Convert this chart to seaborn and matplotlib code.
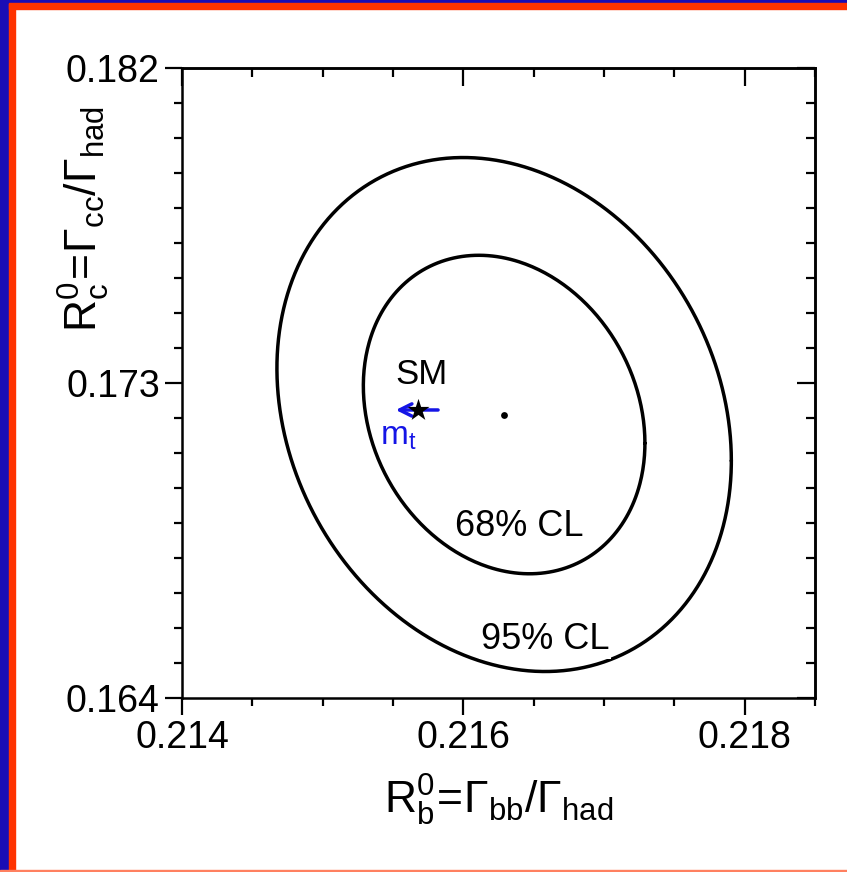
import numpy as np
import matplotlib.pyplot as plt
import matplotlib.patches as mpatches
import seaborn as sns
import pandas as pd

# LEP/SLD fit values
rb_fit, rb_err = 0.21629, 0.00066
rc_fit, rc_err = 0.1721, 0.0030
rho = -0.18
cl_labels = ["68% CL", "95% CL"]
cl_dchi2 = [2.30, 5.99]

# Standard Model point and mt arrow
sm_rb, sm_rc = 0.21568, 0.17223
arrow_tail = (0.21584, 0.17223)
arrow_tip = (0.21550, 0.17223)

x_major = [0.214, 0.216, 0.218]
y_major = [0.164, 0.173, 0.182]
x_minor = np.arange(0.214, 0.2186, 0.0005)
y_minor = np.arange(0.164, 0.1821, 0.001)

sns.set_theme(style="ticks")
plt.rcParams["font.family"] = ["Liberation Sans", "DejaVu Sans"]
plt.rcParams["mathtext.fontset"] = "custom"
plt.rcParams["mathtext.rm"] = "Liberation Sans"
plt.rcParams["mathtext.it"] = "Liberation Sans:italic"
for k in ["text.color", "axes.labelcolor", "xtick.color", "ytick.color", "axes.edgecolor"]:
    plt.rcParams[k] = "black"

fig = plt.figure(figsize=(8.47, 8.72), dpi=100)
fig.patch.set_facecolor("white")
ax = fig.add_axes([0.2149, 0.1995, 0.7473, 0.7225])

# frame stripes
blue, red = "#1a0db5", "#ff3300"
fig.patches.append(mpatches.Rectangle((0, 0), 9 / 847, 1, transform=fig.transFigure, color=blue, zorder=0))
fig.patches.append(mpatches.Rectangle((9 / 847, 0), 6 / 847, 1 - 3 / 872, transform=fig.transFigure, color=red, zorder=0))
fig.patches.append(mpatches.Rectangle((0, 1 - 3 / 872), 1, 3 / 872, transform=fig.transFigure, color=blue, zorder=0))
fig.patches.append(mpatches.Rectangle((9 / 847, 1 - 9 / 872), 1, 6 / 872, transform=fig.transFigure, color=red, zorder=0))
fig.patches.append(mpatches.Rectangle((0, 0), 1, 2 / 872, transform=fig.transFigure, color="#ff8060", zorder=0))

# confidence ellipses from the covariance
cov = np.array([[rb_err ** 2, rho * rb_err * rc_err], [rho * rb_err * rc_err, rc_err ** 2]])
chol = np.linalg.cholesky(cov)
t = np.linspace(0, 2 * np.pi, 400)
circle = np.vstack([np.cos(t), np.sin(t)])
for lab, d in zip(cl_labels, cl_dchi2):
    pts = chol @ circle * np.sqrt(d)
    df = pd.DataFrame({"rb": rb_fit + pts[0], "rc": rc_fit + pts[1]})
    sns.lineplot(data=df, x="rb", y="rc", sort=False, color="black", lw=2.5, ax=ax, estimator=None)

sns.scatterplot(x=[rb_fit], y=[rc_fit], color="black", s=24, ax=ax, linewidth=0)
ax.annotate("", xy=arrow_tip, xytext=arrow_tail,
            arrowprops=dict(arrowstyle="->", color="#1515e6", lw=2.5, mutation_scale=22))
sns.scatterplot(x=[sm_rb], y=[sm_rc], marker="*", color="black", s=280, ax=ax, linewidth=0, zorder=5)

ax.text(0.215706, 0.17323, "SM", fontsize=25, ha="center", va="center")
ax.text(0.215535, 0.17146, r"$\mathrm{m_t}$", fontsize=24, ha="center", va="center", color="#1515e6")
ax.text(0.216395, 0.16889, cl_labels[0], fontsize=26, ha="center", va="center",
        bbox=dict(facecolor="white", edgecolor="none", pad=1))
ax.text(0.216580, 0.16566, cl_labels[1], fontsize=26, ha="center", va="center",
        bbox=dict(facecolor="white", edgecolor="none", pad=1))

ax.set_xlim(0.214, 0.2185)
ax.set_ylim(0.164, 0.182)
ax.set_xticks(x_major)
ax.set_xticks(x_minor, minor=True)
ax.set_yticks(y_major)
ax.set_yticks(y_minor, minor=True)
ax.set_xticklabels([f"{v:.3f}" for v in x_major])
ax.set_yticklabels([f"{v:.3f}" for v in y_major])
for s in ax.spines.values():
    s.set_visible(True)
    s.set_linewidth(1.8)
ax.tick_params(which="major", direction="out", length=12, width=1.6, labelsize=27, pad=4)
ax.tick_params(which="minor", direction="out", length=5.5, width=1.6)

sec_x = ax.secondary_xaxis("top")
sec_x.set_xticks(x_major)
sec_x.set_xticks(x_minor, minor=True)
sec_x.tick_params(which="major", direction="in", length=13, width=1.6, labeltop=False)
sec_x.tick_params(which="minor", direction="in", length=6.5, width=1.6)
sec_x.spines["top"].set_linewidth(1.8)
sec_y = ax.secondary_yaxis("right")
sec_y.set_yticks(y_major)
sec_y.set_yticks(y_minor, minor=True)
sec_y.tick_params(which="major", direction="in", length=13, width=1.6, labelright=False)
sec_y.tick_params(which="minor", direction="in", length=6.5, width=1.6)
sec_y.spines["right"].set_linewidth(1.8)

ax.set_xlabel(r"$\mathrm{R^0_b\!=\!\Gamma_{bb}/\Gamma_{had}}$", fontsize=32, labelpad=12)
ax.set_ylabel(r"$\mathrm{R^0_c\!=\!\Gamma_{cc}/\Gamma_{had}}$", fontsize=32)
ax.yaxis.set_label_coords(-0.11, 0.76)

fig.savefig("out.png", dpi=100, facecolor="white")
